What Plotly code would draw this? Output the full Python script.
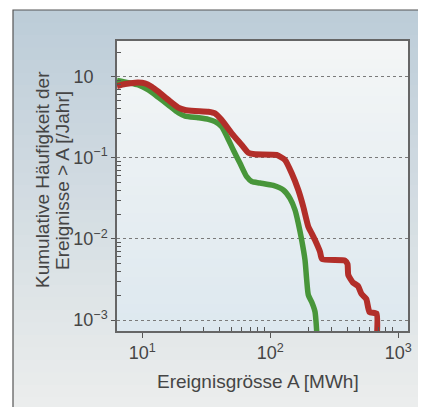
import plotly.graph_objects as go

# ---------------- data ----------------
red_x = [6.34, 7.32, 8.77, 10.5, 11.84, 13.34, 15.96, 19.1, 21.56, 25.8, 32.8, 36.98,
         41.7, 49.9, 59.8, 67.3, 75.9, 112.2, 130.3, 147.0, 165.5, 181.0, 198.2, 210.6,
         223.5, 244.5, 253.5, 383.3, 401.0, 406.8, 442.7, 484.4, 515.9, 562.3, 595.7,
         675.8, 675.8]
red_y = [0.764, 0.808, 0.839, 0.825, 0.749, 0.650, 0.514, 0.413, 0.387, 0.376, 0.368, 0.352,
         0.291, 0.1998, 0.1433, 0.1152, 0.110, 0.108, 0.0937, 0.0643, 0.0400, 0.0249, 0.01413,
         0.01172, 0.00969, 0.00696, 0.00566, 0.00542, 0.00491, 0.00359, 0.00290, 0.00263,
         0.00210, 0.00182, 0.001258, 0.001206, 0.0005]

green_x = [6.34, 7.77, 9.31, 11.14, 13.34, 15.96, 19.1, 21.56, 27.4, 32.8, 36.98, 41.7,
           45.6, 51.4, 58.0, 65.4, 71.6, 83.2, 105.5, 126.4, 142.5, 156.0, 165.5, 175.9,
           186.7, 192.5, 198.2, 210.6, 223.5, 230.4, 232.8]
green_y = [0.893, 0.839, 0.786, 0.682, 0.554, 0.446, 0.358, 0.326, 0.311, 0.297, 0.2775, 0.241,
           0.185, 0.1244, 0.0853, 0.0583, 0.0509, 0.0488, 0.0455, 0.0400, 0.0316, 0.0227,
           0.01557, 0.00969, 0.0055, 0.00312, 0.00204, 0.00167, 0.00127, 0.00073, 0.0005]

x_tick_vals = [10, 100, 1000]
x_tick_text = ["10<sup>1</sup>", "10<sup>2</sup>", "10<sup>3</sup>"]
y_tick_vals = [1, 0.1, 0.01, 0.001]
y_tick_text = ["10<sup>\u00a0\u00a0\u00a0\u00a0</sup>", "10<sup>\u22121</sup>",
               "10<sup>\u22122</sup>", "10<sup>\u22123</sup>"]
x_title = "Ereignisgrösse A [MWh]"
y_title_lines = ["Kumulative Häufigkeit der", "Ereignisse > A [/Jahr]"]

# ---------------- layout geometry / styling ----------------
OFF = 8                      # page body margin in the browser
SW, SH = 426, 407            # screen size
W, H = SW - OFF, SH - OFF    # figure size
# plot area in screen pixels
SL, SR, ST, SB = 117, 408, 41, 331
L, R, T, B = SL - OFF, SR - OFF, ST - OFF, SB - OFF


def px_x(p):
    return (p - OFF - L) / (R - L)


def px_y(p):
    return (B - (p - OFF)) / (B - T)


def lerp(c0, c1, t):
    return tuple(round(a + (b - a) * t) for a, b in zip(c0, c1))


shapes = []


def bands(x0, x1, y0, y1, ctop, cbot, n=32):
    for i in range(n):
        t = (i + 0.5) / n
        c = lerp(ctop, cbot, t)
        ya = y0 + (y1 - y0) * i / n
        yb = min(y0 + (y1 - y0) * (i + 1) / n + 0.8, y1)
        shapes.append(dict(type="rect", xref="paper", yref="paper",
                           x0=px_x(x0), x1=px_x(x1), y0=px_y(ya), y1=px_y(yb),
                           fillcolor="rgb(%d,%d,%d)" % c, line=dict(width=0),
                           layer="below"))


# outer panel gradient
bands(13, 424, 10, 410, (188, 204, 216), (236, 238, 237))
# plot area gradient
bands(SL, SR, ST, SB, (244, 246, 246), (221, 232, 239))
# panel border
shapes.append(dict(type="rect", xref="paper", yref="paper",
                   x0=px_x(13), x1=px_x(424), y0=px_y(10), y1=px_y(412),
                   line=dict(color="#555555", width=1.2), fillcolor="rgba(0,0,0,0)",
                   layer="below"))

font_family = "Liberation Sans, Arial, sans-serif"
text_color = "#454545"

fig = go.Figure()
fig.add_trace(go.Scatter(x=green_x, y=green_y, mode="lines",
                         line=dict(color="#48963a", width=5.5, shape="spline", smoothing=0.6),
                         hoverinfo="skip", showlegend=False))
fig.add_trace(go.Scatter(x=red_x, y=red_y, mode="lines",
                         line=dict(color="#b22e29", width=6, shape="spline", smoothing=0.5),
                         hoverinfo="skip", showlegend=False))

x_minor = [k * 10 for k in range(2, 10)] + [k * 100 for k in range(2, 10)]
y_minor = [k * 10.0 ** e for e in (-3, -2, -1) for k in range(2, 10)] + [2]

fig.update_xaxes(type="log", range=[0.802, 3.076],
                 tickmode="array", tickvals=x_tick_vals, ticktext=x_tick_text,
                 ticks="outside", ticklen=5, tickcolor="#555", tickwidth=1.2,
                 showgrid=False, showline=True, mirror=True, linecolor="#666", linewidth=1.5,
                 tickfont=dict(family=font_family, size=18, color=text_color),
                 minor=dict(tickmode="array", tickvals=x_minor, ticks="inside", ticklen=4,
                            tickcolor="#555", tickwidth=1, showgrid=False),
                 zeroline=False)
fig.update_yaxes(type="log", range=[-3.134, 0.437],
                 tickmode="array", tickvals=y_tick_vals, ticktext=y_tick_text,
                 ticks="outside", ticklen=4, tickcolor="#555", tickwidth=1.2,
                 showgrid=True, gridcolor="#7a7a7a", gridwidth=1, griddash="dot",
                 showline=True, mirror=True, linecolor="#666", linewidth=1.5,
                 tickfont=dict(family=font_family, size=18, color=text_color),
                 minor=dict(tickmode="array", tickvals=y_minor, ticks="inside", ticklen=4,
                            tickcolor="#555", tickwidth=1, showgrid=False),
                 zeroline=False)

annotations = [
    dict(text=x_title, xref="paper", yref="paper", x=px_x(258), y=px_y(381),
         xanchor="center", yanchor="middle", showarrow=False,
         font=dict(family=font_family, size=19, color=text_color)),
    dict(text=y_title_lines[0], xref="paper", yref="paper", x=px_x(42), y=px_y(180),
         xanchor="center", yanchor="middle", showarrow=False, textangle=-90,
         font=dict(family=font_family, size=19, color=text_color)),
    dict(text=y_title_lines[1], xref="paper", yref="paper", x=px_x(62), y=px_y(181),
         xanchor="center", yanchor="middle", showarrow=False, textangle=-90,
         font=dict(family=font_family, size=19, color=text_color)),
]

fig.update_layout(width=W, height=H,
                  margin=dict(l=L, r=W - R, t=T, b=H - B, autoexpand=False),
                  paper_bgcolor="white", plot_bgcolor="rgba(0,0,0,0)",
                  shapes=shapes, annotations=annotations,
                  font=dict(family=font_family, color=text_color))

fig.write_html("out.html")
